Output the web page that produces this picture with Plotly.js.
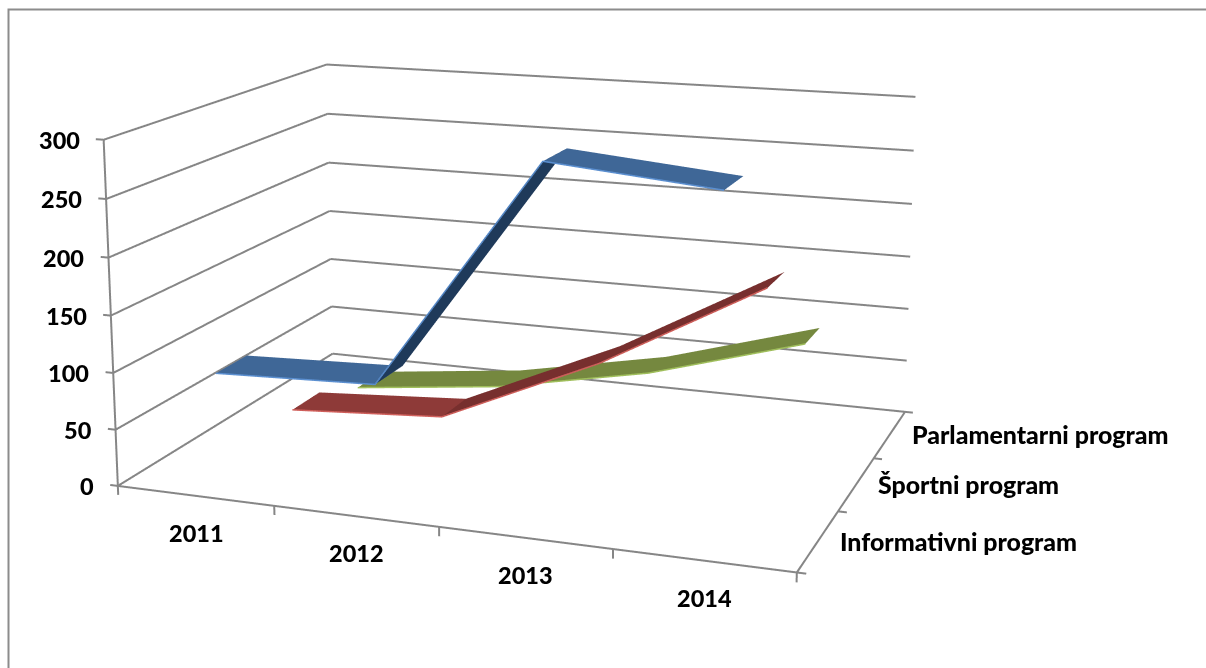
<!DOCTYPE html>
<html><head><meta charset="utf-8">
<script src="https://cdn.plot.ly/plotly-3.0.1.min.js"></script>
<style>html,body{margin:0;padding:0;background:#fff;overflow:hidden;width:1206px;height:668px}
#c{position:absolute;left:-171px;top:-756px;width:1400px;height:1888px}</style></head>
<body><div id="c"></div>
<script>
const years=['2011','2012','2013','2014'];
const programs=['Informativni program','Športni program','Parlamentarni program'];
const informativni=[95,100,298,285];
const sportni=[20,29,93,173];
const parlamentarni=[0,16,44,86];
const zTicks=[0,50,100,150,200,250,300];
const flatColors=['#3f6797','#8e3a38','#75883f'];
const riseColors=['#1f3a5a','#772f2e','#6b7f37'];
const edgeColors=['#5b8fd0','#d0605c','#a0bf5c'];
const series=[informativni,sportni,parlamentarni];
const halfDepth=0.2, steepRise=60;
const pageW=1400,pageH=1888,offX=171,offY=756;
const xLo=-0.5,xHi=3.5,yLo=-0.5,yHi=2.5;
const traces=[];
series.forEach((vals,s)=>{
  const x=[],y=[],z=[],i=[],j=[],k=[],facecolor=[];
  vals.forEach((v,c)=>{
    x.push(c,c);y.push(s-halfDepth,s+halfDepth);z.push(v,v);
    if(c<vals.length-1){
      const b=c*2;i.push(b,b+1);j.push(b+1,b+3);k.push(b+2,b+2);
      const col=(vals[c+1]-v)>steepRise?riseColors[s]:flatColors[s];
      facecolor.push(col,col);
    }
  });
  traces.push({type:'mesh3d',x,y,z,i,j,k,facecolor,flatshading:true,
    lighting:{ambient:1,diffuse:0,specular:0,fresnel:0},hoverinfo:'skip',name:programs[s]});
  traces.push({type:'scatter3d',mode:'lines',x:vals.map((_,c)=>c),y:vals.map(()=>s-halfDepth),z:vals,
    line:{color:edgeColors[s],width:3},hoverinfo:'skip',showlegend:false});
});
// walls, axis lines and tick marks
const fx=[],fy=[],fz=[];
const seg=(a,b)=>{fx.push(a[0],b[0],null);fy.push(a[1],b[1],null);fz.push(a[2],b[2],null)};
zTicks.forEach(v=>{
  seg([xLo,yLo,v],[xLo,yHi,v]);seg([xLo,yHi,v],[xHi,yHi,v]);
  seg([xLo-0.05,yLo,v],[xLo,yLo,v]);
});
seg([xLo,yLo,0],[xLo,yLo,300]);
seg([xLo,yLo,0],[xHi,yLo,0]);
seg([xHi,yLo,0],[xHi,yHi,0]);
[xLo,0.5,1.5,2.5,xHi].forEach(t=>seg([t,yLo,0],[t,yLo,-8]));
[yLo,0.5,1.5,yHi].forEach(t=>seg([xHi,t,0],[xHi+0.05,t,0]));
traces.unshift({type:'scatter3d',mode:'lines',x:fx,y:fy,z:fz,line:{color:'#868686',width:4},hoverinfo:'skip',showlegend:false,connectgaps:false});

const hidden={showbackground:false,showline:false,showgrid:false,zeroline:false,showticklabels:false,ticks:'',showspikes:false,title:{text:''}};
const numFont={family:'Lato',size:23.5,color:'#000',weight:900};
const nameFont={family:'Lato',size:24.9,color:'#000',weight:900};
const ann=[];
years.forEach((t,c)=>ann.push({x:c,y:yLo,z:0,text:t,showarrow:false,font:numFont,xanchor:'center',yanchor:'middle',yshift:-37,xshift:1}));
zTicks.forEach(v=>ann.push({x:xLo,y:yLo,z:v,text:String(v),showarrow:false,font:numFont,xanchor:'right',yanchor:'middle',xshift:-22}));
programs.forEach((t,s)=>ann.push({x:xHi,y:s,z:0,text:t,showarrow:false,font:nameFont,xanchor:'left',yanchor:'middle',xshift:20}));

const layout={width:pageW,height:pageH,margin:{l:0,r:0,t:0,b:0},showlegend:false,paper_bgcolor:'#fff',
 scene:{domain:{x:[0,1],y:[0,1]},aspectmode:'manual',aspectratio:{x:2.0683,y:1.5428,z:1.1},
  camera:{eye:{x:2.2272,y:-6.1116,z:1.6496},center:{x:1.0995,y:-3.0225,z:0.9625},up:{x:-0.0184,y:0.0565,z:1}},
  xaxis:Object.assign({},hidden,{range:[-0.6,3.6]}),
  yaxis:Object.assign({},hidden,{range:[-0.6,2.6]}),
  zaxis:Object.assign({},hidden,{range:[-15,315]}),
  annotations:ann},
 shapes:[{type:'rect',xref:'paper',yref:'paper',x0:(8.5+offX)/pageW,x1:1,y0:1-(720+offY)/pageH,y1:1-(9.5+offY)/pageH,line:{color:'#8c8c8c',width:2}}]};
Plotly.newPlot('c',traces,layout,{displayModeBar:false});
</script></body></html>
